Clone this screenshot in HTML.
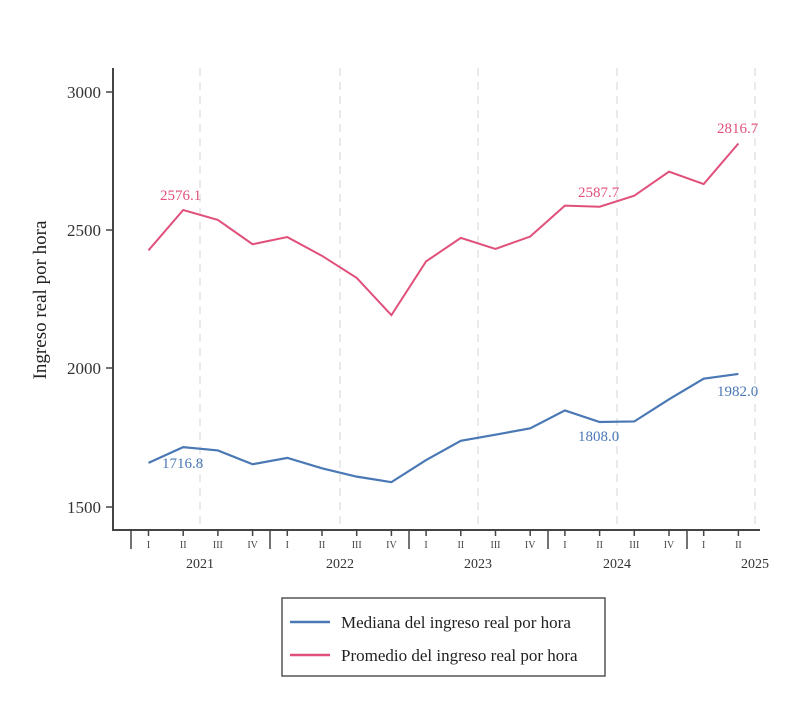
<!DOCTYPE html>
<html><head><meta charset="utf-8"><style>
body{margin:0;background:#fff;width:790px;height:709px;overflow:hidden}
svg text{font-family:"Liberation Serif",serif}
</style></head><body>
<svg id="s" width="790" height="709" xmlns="http://www.w3.org/2000/svg">
<g stroke="#ddd" stroke-dasharray="8,6" stroke-width="1.2">
<line x1="200" y1="68" x2="200" y2="529"/><line x1="340" y1="68" x2="340" y2="529"/>
<line x1="478" y1="68" x2="478" y2="529"/><line x1="617" y1="68" x2="617" y2="529"/>
<line x1="755" y1="68" x2="755" y2="529"/>
</g>
<g stroke="#444" stroke-width="2" fill="none">
<line x1="113" y1="68" x2="113" y2="531"/><line x1="112" y1="530" x2="760" y2="530"/>
</g>
<g font-size="17" fill="#333" text-anchor="end">
<text x="101" y="98">3000</text><text x="101" y="236">2500</text>
<text x="101" y="374">2000</text><text x="101" y="513">1500</text>
</g>
<g stroke="#444" stroke-width="1.5">
<line x1="106" y1="92" x2="113" y2="92"/><line x1="106" y1="230" x2="113" y2="230"/>
<line x1="106" y1="368" x2="113" y2="368"/><line x1="106" y1="507" x2="113" y2="507"/>
</g>
<text transform="translate(46,300) rotate(-90)" font-size="19" fill="#222" text-anchor="middle">Ingreso real por hora</text>
<g id="xt"></g>
<g font-size="14" fill="#333" text-anchor="middle">
<text x="200" y="568">2021</text><text x="340" y="568">2022</text><text x="478" y="568">2023</text>
<text x="617" y="568">2024</text><text x="755" y="568">2025</text>
</g>
<polyline id="pk" fill="none" stroke="#e0507a" stroke-width="2"/>
<polyline id="bl" fill="none" stroke="#4a78b5" stroke-width="2.2"/>
<g font-size="15">
<text x="160" y="200" fill="#e0507a">2576.1</text>
<text x="578" y="197" fill="#e0507a">2587.7</text>
<text x="717" y="133" fill="#e0507a">2816.7</text>
<text x="162" y="468" fill="#4a78b5">1716.8</text>
<text x="578" y="441" fill="#4a78b5">1808.0</text>
<text x="717" y="396" fill="#4a78b5">1982.0</text>
</g>
<rect x="282" y="598" width="323" height="78" fill="#fff" stroke="#555" stroke-width="1.5"/>
<line x1="290" y1="622" x2="330" y2="622" stroke="#4a78b5" stroke-width="2.5"/>
<line x1="290" y1="655" x2="330" y2="655" stroke="#e0507a" stroke-width="2.5"/>
<g font-size="17" fill="#222"><text x="341" y="628">Mediana del ingreso real por hora</text>
<text x="341" y="661">Promedio del ingreso real por hora</text></g>
</svg>
<script>
var p=[2430,2576,2540,2452,2478,2410,2330,2195,2390,2475,2435,2480,2592,2588,2628,2715,2670,2817];
var b=[1660,1717,1705,1655,1678,1640,1610,1590,1670,1740,1762,1785,1850,1808,1810,1890,1965,1982];
function X(i){return 148.5+i*34.7}function Y(v){return 507-(v-1500)*0.276}
document.getElementById('pk').setAttribute('points',p.map((v,i)=>X(i)+','+Y(v)).join(' '));
document.getElementById('bl').setAttribute('points',b.map((v,i)=>X(i)+','+Y(v)).join(' '));
var q=['I','II','III','IV'],h='';
for(var i=0;i<18;i++){var x=X(i);h+='<line x1="'+x+'" y1="530" x2="'+x+'" y2="536" stroke="#444" stroke-width="1.5"/><text x="'+x+'" y="548" font-size="10" fill="#444" text-anchor="middle">'+q[i%4]+'</text>';}
for(var j=0;j<5;j++){var x=131+j*139;h+='<line x1="'+x+'" y1="530" x2="'+x+'" y2="549" stroke="#444" stroke-width="1.5"/>';}
document.getElementById('xt').innerHTML=h;
</script>
</body></html>
